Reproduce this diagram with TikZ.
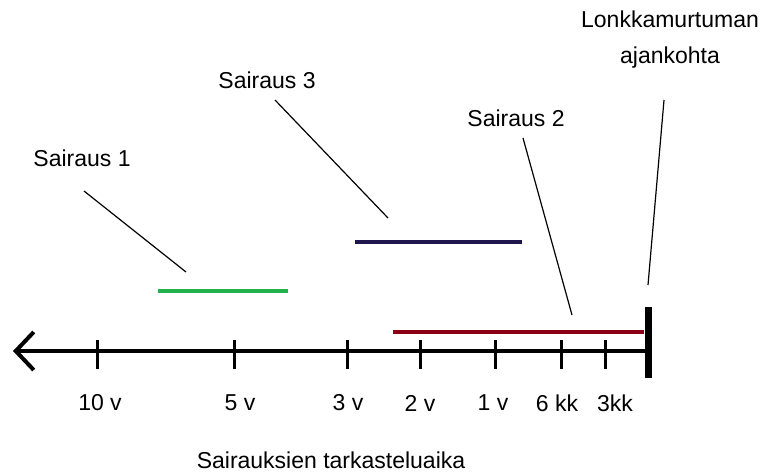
\documentclass[tikz,border=0pt]{standalone}
\usepackage{fontspec}
\setmainfont{Liberation Sans}
\usepackage{tikz}
\usetikzlibrary{arrows.meta}
\definecolor{sgreen}{RGB}{34,177,76}
\definecolor{snavy}{RGB}{32,22,78}
\definecolor{sred}{RGB}{140,0,22}

\begin{document}
\begin{tikzpicture}[
  x=1pt,y=-1pt,
  lbl/.style={font=\fontsize{23}{36}\selectfont,inner sep=0pt,align=center},
  axis/.style={{Straight Barb[length=18pt,width=38pt,line width=4pt]}-,line width=4.5pt},
  tick/.style={line width=3pt},
  period/.style={line width=4pt},
  pointer/.style={line width=1.2pt},
]
\useasboundingbox (0,0) rectangle (770,474);

% labels
\node[lbl] (s1) at (82,158) {Sairaus 1};
\node[lbl] (s3) at (267,80) {Sairaus 3};
\node[lbl] (s2) at (516,118) {Sairaus 2};
\node[lbl] (hip) at (670,40) {Lonkkamurtuman\\ajankohta};
\node[lbl] (axlbl) at (331,460) {Sairauksien tarkasteluaika};

% time axis
\coordinate (now) at (648,351);
\coordinate (past) at (13,351);
\draw[axis] (past) -- (now);
\draw[line width=7pt] (648,307) -- (648,378);
\foreach \x/\t/\lx in {97/10 v/100, 234/5 v/240, 347/3 v/348, 420/2 v/420,
                       495/1 v/493, 561/6 kk/557, 605/3kk/615} {
  \draw[tick] (\x,340) -- (\x,369);
  \node[lbl] (t\x) at (\lx,403) {\t};
}

% periods
\draw[period,sgreen] (158,291) -- (288,291);
\draw[period,snavy]  (355,242) -- (522,242);
\draw[line width=3.5pt,sred] (393,332) -- (644,332);

% pointers
\coordinate (p1) at (186,272);
\coordinate (p3) at (388,218);
\coordinate (p2) at (572,315);
\coordinate (ph) at (648,285);
\draw[pointer] (84,191) -- (p1);
\draw[pointer] (275,100) -- (p3);
\draw[pointer] (523,138) -- (p2);
\draw[pointer] (664,100) -- (ph);

\end{tikzpicture}
\end{document}
